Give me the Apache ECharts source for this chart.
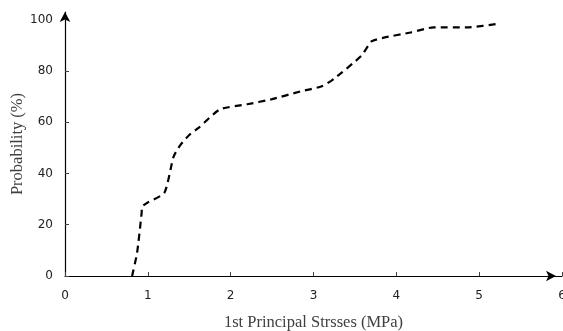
<!DOCTYPE html>
<html><head><meta charset="utf-8">
<script src="https://cdn.jsdelivr.net/npm/echarts@6/dist/echarts.min.js"></script>
<style>html,body{margin:0;padding:0;background:#fff}#c{width:563px;height:331px}</style>
</head><body><div id="c"></div>
<script>
const stress = [0.81,0.87,0.925,0.93,0.99,1.2,1.31,1.39,1.5,1.62,1.87,2.2,2.5,2.84,3.1,3.25,3.58,3.7,3.85,4.17,4.45,4.85,5.25];
const prob   = [0,9,24.5,27,28.5,32.5,46.5,51,55,58,65,67,69,72,74,77,86,91.5,93,95,97,97,98.5];
const xTicks = [0,1,2,3,4,5,6];
const yTicks = [0,20,40,60,80,100];

const chart = echarts.init(document.getElementById('c'));
chart.setOption({
  animation:false,
  grid:{left:65,right:1,top:12,bottom:55,outerBoundsMode:'none',containLabel:false},
  xAxis:{type:'value',min:0,max:6,interval:1,
    name:'1st Principal Strsses (MPa)',nameLocation:'middle',nameGap:38,nameMoveOverlap:false,
    nameTextStyle:{fontFamily:'Liberation Serif',fontSize:16.5,color:'#404040'},
    axisLine:{lineStyle:{color:'#000',width:1.2},symbol:['none','arrow'],symbolSize:[8,10],symbolOffset:[0,-6]},
    axisTick:{inside:true,length:4,lineStyle:{color:'#444'},customValues:xTicks},
    axisLabel:{customValues:xTicks,fontFamily:'DejaVu Sans',fontSize:12,color:'#222',margin:14},
    splitLine:{show:false}},
  yAxis:{type:'value',min:0,max:103,
    name:'Probability (%)',nameLocation:'middle',nameGap:39,nameMoveOverlap:false,
    nameTextStyle:{fontFamily:'Liberation Serif',fontSize:16.5,color:'#404040'},
    axisLine:{show:true,lineStyle:{color:'#000',width:1.2},symbol:['none','arrow'],symbolSize:[8,10]},
    axisTick:{show:true,inside:true,length:4,lineStyle:{color:'#444'},customValues:yTicks},
    axisLabel:{customValues:yTicks,fontFamily:'DejaVu Sans',fontSize:12,color:'#222',margin:12},
    splitLine:{show:false}},
  series:[{type:'line',data:stress.map((x,i)=>[x,prob[i]]),showSymbol:false,smooth:0.2,
    lineStyle:{color:'#000',width:2.2,type:[7,5]}}]
});
</script></body></html>
